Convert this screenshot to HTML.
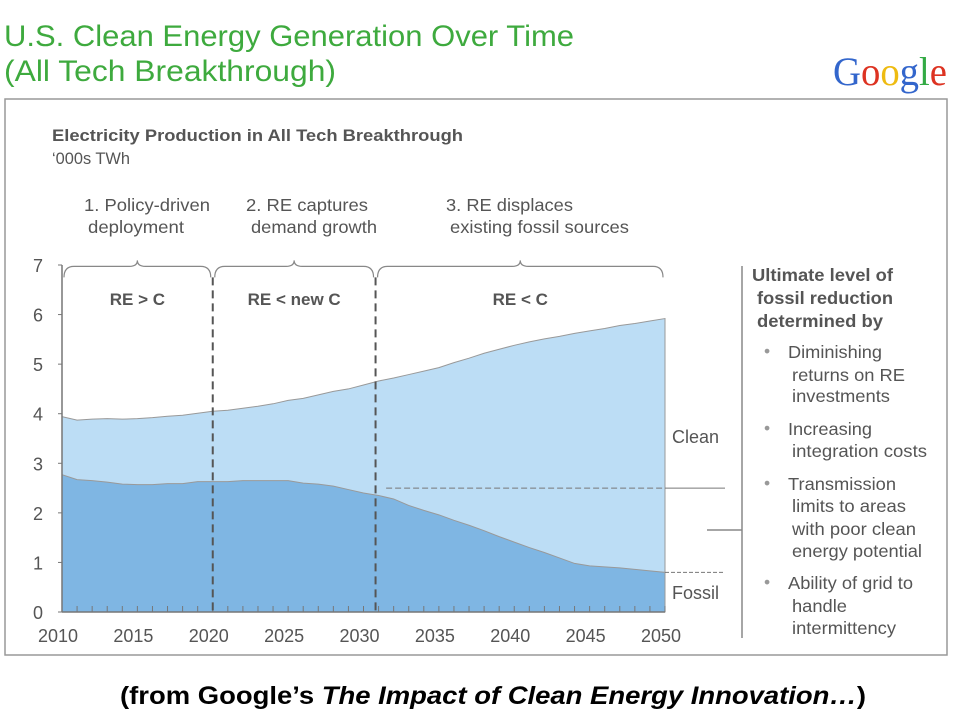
<!DOCTYPE html>
<html><head><meta charset="utf-8"><style>
body{margin:0;background:#fff;width:960px;height:720px;overflow:hidden}
</style></head><body>
<svg width="960" height="720" viewBox="0 0 960 720" font-family="Liberation Sans, sans-serif">
<text x="4" y="46" font-size="30" fill="#3eaa3e" textLength="570" lengthAdjust="spacingAndGlyphs">U.S. Clean Energy Generation Over Time</text>
<text x="4" y="81" font-size="30" fill="#3eaa3e" textLength="332" lengthAdjust="spacingAndGlyphs">(All Tech Breakthrough)</text>
<text x="833" y="85" font-size="40" style="font-family:'Liberation Serif',serif" textLength="114" lengthAdjust="spacingAndGlyphs"><tspan fill="#3366cc">G</tspan><tspan fill="#dd3322">o</tspan><tspan fill="#eebb11">o</tspan><tspan fill="#3366cc">g</tspan><tspan fill="#33aa44">l</tspan><tspan fill="#dd3322">e</tspan></text>
<rect x="5" y="99" width="942" height="556" fill="none" stroke="#999" stroke-width="1.5"/>
<text x="52" y="141" font-size="17" font-weight="bold" fill="#555" textLength="411" lengthAdjust="spacingAndGlyphs">Electricity Production in All Tech Breakthrough</text>
<text x="52" y="164" font-size="17" fill="#555" textLength="78" lengthAdjust="spacingAndGlyphs">‘000s TWh</text>
<g font-size="17.5" fill="#555">
<text x="84" y="211" textLength="126" lengthAdjust="spacingAndGlyphs">1. Policy-driven</text><text x="88" y="233" textLength="96" lengthAdjust="spacingAndGlyphs">deployment</text>
<text x="246" y="211" textLength="122" lengthAdjust="spacingAndGlyphs">2. RE captures</text><text x="251" y="233" textLength="126" lengthAdjust="spacingAndGlyphs">demand growth</text>
<text x="446" y="211" textLength="127" lengthAdjust="spacingAndGlyphs">3. RE displaces</text><text x="450" y="233" textLength="179" lengthAdjust="spacingAndGlyphs">existing fossil sources</text>
</g>
<g id="chart"></g>
<g font-size="17.5" fill="#555">
<line x1="742" y1="266" x2="742" y2="638" stroke="#888" stroke-width="1.5"/>
<line x1="707" y1="530" x2="742" y2="530" stroke="#888" stroke-width="1.5"/>
<g font-weight="bold"><text x="752" y="281" textLength="141" lengthAdjust="spacingAndGlyphs">Ultimate level of</text><text x="757" y="304" textLength="136" lengthAdjust="spacingAndGlyphs">fossil reduction</text><text x="757" y="327" textLength="126" lengthAdjust="spacingAndGlyphs">determined by</text></g>
<g fill="#999"><text x="764" y="357">•</text><text x="764" y="434">•</text><text x="764" y="489">•</text><text x="764" y="588">•</text></g>
<text x="788" y="358" textLength="94" lengthAdjust="spacingAndGlyphs">Diminishing</text><text x="792" y="381" textLength="113" lengthAdjust="spacingAndGlyphs">returns on RE</text><text x="792" y="402" textLength="98" lengthAdjust="spacingAndGlyphs">investments</text>
<text x="788" y="435" textLength="84" lengthAdjust="spacingAndGlyphs">Increasing</text><text x="792" y="457" textLength="135" lengthAdjust="spacingAndGlyphs">integration costs</text>
<text x="788" y="490" textLength="108" lengthAdjust="spacingAndGlyphs">Transmission</text><text x="792" y="512" textLength="114" lengthAdjust="spacingAndGlyphs">limits to areas</text><text x="792" y="535" textLength="124" lengthAdjust="spacingAndGlyphs">with poor clean</text><text x="792" y="557" textLength="130" lengthAdjust="spacingAndGlyphs">energy potential</text>
<text x="788" y="589" textLength="125" lengthAdjust="spacingAndGlyphs">Ability of grid to</text><text x="792" y="612" textLength="55" lengthAdjust="spacingAndGlyphs">handle</text><text x="792" y="634" textLength="104" lengthAdjust="spacingAndGlyphs">intermittency</text>
</g>
<text x="120" y="704" font-size="25" font-weight="bold" fill="#000" textLength="746" lengthAdjust="spacingAndGlyphs">(from Google’s <tspan font-style="italic">The Impact of Clean Energy Innovation…</tspan>)</text>
</svg>
<script>
const years=[];for(let y=2010;y<=2050;y++)years.push(y);
const fossil=[2.77,2.67,2.65,2.62,2.58,2.57,2.57,2.59,2.59,2.63,2.63,2.63,2.65,2.65,2.65,2.65,2.6,2.58,2.54,2.47,2.4,2.35,2.28,2.15,2.05,1.96,1.85,1.75,1.64,1.52,1.41,1.3,1.2,1.09,0.98,0.93,0.91,0.89,0.86,0.83,0.80];
const total=[3.94,3.87,3.89,3.9,3.89,3.9,3.92,3.95,3.97,4.01,4.05,4.07,4.11,4.15,4.2,4.27,4.31,4.38,4.45,4.5,4.58,4.66,4.72,4.79,4.86,4.93,5.03,5.12,5.22,5.3,5.38,5.45,5.51,5.56,5.62,5.67,5.72,5.78,5.82,5.87,5.92];
const yTicks=[0,1,2,3,4,5,6,7];
const xTicks=[2010,2015,2020,2025,2030,2035,2040,2045,2050];
const phases=[2010,2020,2030.8,2050];
const phaseTags=["RE > C","RE < new C","RE < C"];
const NS="http://www.w3.org/2000/svg";
const g=document.getElementById('chart');
const X=v=>62+(v-2010)*(665-62)/40;
const Y=v=>612-v*(612-265)/7;
function el(t,a,p){const e=document.createElementNS(NS,t);for(const k in a)e.setAttribute(k,a[k]);(p||g).appendChild(e);return e;}
let d='M'+X(years[0])+','+Y(0);years.forEach((y,i)=>d+='L'+X(y)+','+Y(total[i]));d+='L'+X(2050)+','+Y(0)+'Z';
const c=el('path',{d:d,fill:'#bcddf5',stroke:'#999','stroke-width':1});


let d2='M'+X(years[0])+','+Y(0);years.forEach((y,i)=>d2+='L'+X(y)+','+Y(fossil[i]));d2+='L'+X(2050)+','+Y(0)+'Z';
const f=el('path',{d:d2,fill:'#7fb6e3',stroke:'#999','stroke-width':1});


el('line',{x1:X(2010),y1:Y(7),x2:X(2010),y2:Y(0),stroke:'#777','stroke-width':1.5});
el('line',{x1:X(2010),y1:Y(0),x2:X(2050),y2:Y(0),stroke:'#777','stroke-width':1.5});
yTicks.forEach(v=>{el('line',{x1:X(2010)-4,y1:Y(v),x2:X(2010),y2:Y(v),stroke:'#777'});
const t=el('text',{x:38,y:Y(v)+7,'font-size':18,fill:'#555','text-anchor':'middle'});t.textContent=v;

});
years.forEach(y=>el('line',{x1:X(y),y1:Y(0),x2:X(y),y2:Y(0)-6,stroke:'#777'}));
xTicks.forEach(v=>{const t=el('text',{x:X(v)-4,y:642,'font-size':18,fill:'#555','text-anchor':'middle'});t.textContent=v;

});
[phases[1],phases[2]].forEach(p=>{const l=el('line',{x1:X(p),y1:Y(6.75),x2:X(p),y2:Y(0),stroke:'#555','stroke-width':2,'stroke-dasharray':'8,5'});

});
for(let i=0;i<3;i++){const a=X(phases[i])+2,b=X(phases[i+1])-2,m=(a+b)/2,yb=Y(6.75),yt=yb-11;
const br=el('path',{d:`M${a},${yb} Q${a},${yt} ${a+10},${yt} L${m-8},${yt} Q${m},${yt} ${m},${yt-6} Q${m},${yt} ${m+8},${yt} L${b-10},${yt} Q${b},${yt} ${b},${yb}`,fill:'none',stroke:'#888','stroke-width':1.2});


const t=el('text',{x:(X(phases[i])+X(phases[i+1]))/2,y:305,'font-size':17,'font-weight':'bold',fill:'#555','text-anchor':'middle'});t.textContent=phaseTags[i];

}
el('line',{x1:X(2031.5),y1:Y(2.5),x2:X(2050),y2:Y(2.5),stroke:'#777','stroke-dasharray':'6,3'});
el('line',{x1:X(2050),y1:Y(2.5),x2:725,y2:Y(2.5),stroke:'#777'});
el('line',{x1:X(2050),y1:Y(fossil[40]),x2:724,y2:Y(fossil[40]),stroke:'#777','stroke-dasharray':'4,2'});
const cl=el('text',{x:672,y:443,'font-size':18,fill:'#555'});cl.textContent='Clean';


const fl=el('text',{x:672,y:599,'font-size':18,fill:'#555'});fl.textContent='Fossil';


</script>
</body></html>
